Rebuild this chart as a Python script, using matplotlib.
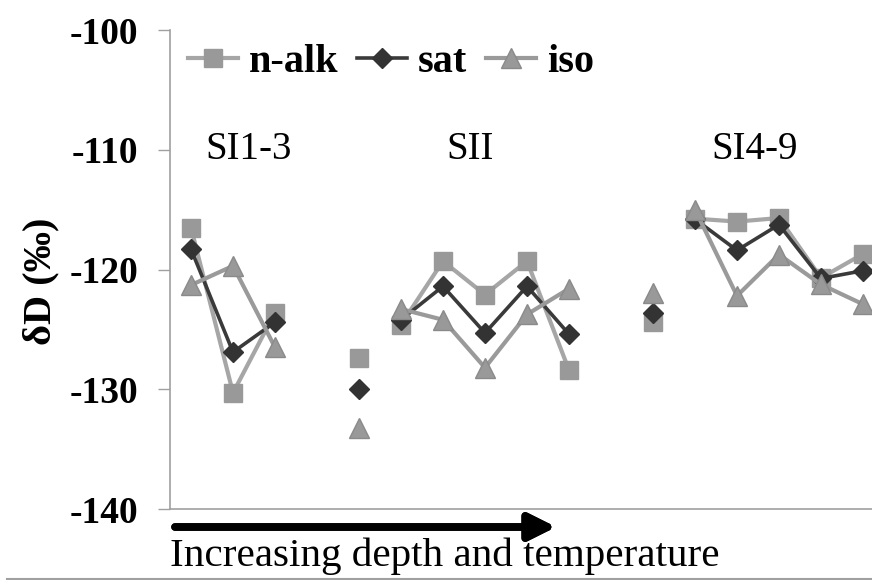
import matplotlib
matplotlib.use("Agg")
import matplotlib.pyplot as plt
from matplotlib.lines import Line2D
import numpy as np

# ---- data (category slots: SI1-3 at 0..2, isolated 4, SII 5..9, isolated 11, SI4-9 12..16)
group_starts = [0, 4, 5, 11, 12]
nalk_groups = [
    [-116.5, -130.3, -123.6],
    [-127.4],
    [-124.6, -119.3, -122.1, -119.3, -128.4],
    [-124.4],
    [-115.75, -116.0, -115.7, -120.7, -118.7],
]
sat_groups = [
    [-118.3, -126.9, -124.4],
    [-130.0],
    [-124.2, -121.4, -125.3, -121.4, -125.4],
    [-123.6],
    [-115.8, -118.4, -116.25, -120.75, -120.1],
]
iso_groups = [
    [-121.3, -119.7, -126.5],
    [-133.2],
    [-123.3, -124.2, -128.2, -123.75, -121.6],
    [-122.0],
    [-115.0, -122.2, -118.75, -121.25, -122.9],
]
series_names = ["n-alk", "sat", "iso"]
region_labels = ["SI1-3", "SII", "SI4-9"]
region_pos = [1.36, 6.64, 13.43]
yticks = [-140, -130, -120, -110, -100]
xlabel_text = "Increasing depth and temperature"
ylabel_text = "δD (‰)"

W, H = 872, 580
fig = plt.figure(figsize=(W / 100, H / 100), dpi=100)
serif = ["Liberation Serif", "DejaVu Serif"]

spacing = 42.0
left_px, bottom_px, top_px = 170, 509, 30
ax_w_px = 17 * spacing
ax = fig.add_axes([left_px / W, 1 - bottom_px / H, ax_w_px / W, (bottom_px - top_px) / H])
ax.set_xlim(-0.5, 16.5)
ax.set_ylim(-140, -100)

styles = [
    dict(color="#a6a6a6", lw=3.0, marker="s", ms=13.5, mfc="#999999", mec="#999999"),
    dict(color="#3a3a3a", lw=2.6, marker="D", ms=10.5, mfc="#333333", mec="#333333"),
    dict(color="#9a9a9a", lw=3.0, marker="^", ms=14, mfc="#999999", mec="#8a8a8a"),
]
for groups, st in zip([nalk_groups, sat_groups, iso_groups], styles):
    for start, vals in zip(group_starts, groups):
        xs = np.arange(start, start + len(vals))
        ax.plot(xs, vals, clip_on=False, **st)

for lab, xp in zip(region_labels, region_pos):
    ax.text(xp, -110, lab, ha="center", va="center", fontsize=28, family=serif)

ax.set_yticks(yticks)
ax.set_yticklabels([str(t) for t in yticks], fontsize=27, fontweight="bold", family=serif)
ax.tick_params(axis="y", direction="out", length=8.6, width=1, color="#a0a0a0", pad=14)
ax.tick_params(axis="x", length=0, labelbottom=False)
for s in ["top", "right"]:
    ax.spines[s].set_visible(False)
for s in ["left", "bottom"]:
    ax.spines[s].set_color("#a0a0a0")
    ax.spines[s].set_linewidth(1.2)

# legend
handles = [Line2D([], [], **st) for st in styles]
fig.legend(handles, series_names, loc="center left",
           bbox_to_anchor=(188 / W, 1 - 62 / H), ncol=3, frameon=False,
           borderaxespad=0, borderpad=0, handlelength=1.25, handletextpad=0.27,
           columnspacing=0.45, numpoints=1,
           prop=dict(family=serif, weight="bold", size=29))

# y label
fig.text(41 / W, 1 - 281 / H, ylabel_text, rotation=90, ha="center", va="center",
         fontsize=29, fontweight="bold", family=serif)

# arrow
fig.add_artist(plt.annotate("", xy=(556, H - 527), xytext=(175, H - 527),
               xycoords="figure pixels", textcoords="figure pixels",
               arrowprops=dict(arrowstyle="-|>,head_length=0.8,head_width=0.4",
                               lw=5.5, color="black", shrinkA=0, shrinkB=0,
                               mutation_scale=20)))
fig.text(170 / W, 1 - 556 / H, xlabel_text, ha="left", va="center",
         fontsize=29.6, family=serif)

# bottom border line
fig.add_artist(Line2D([7 / W, 1], [1 - 579 / H, 1 - 579 / H], transform=fig.transFigure,
                      color="#a0a0a0", lw=1.5))

fig.savefig("out.png", dpi=100)
